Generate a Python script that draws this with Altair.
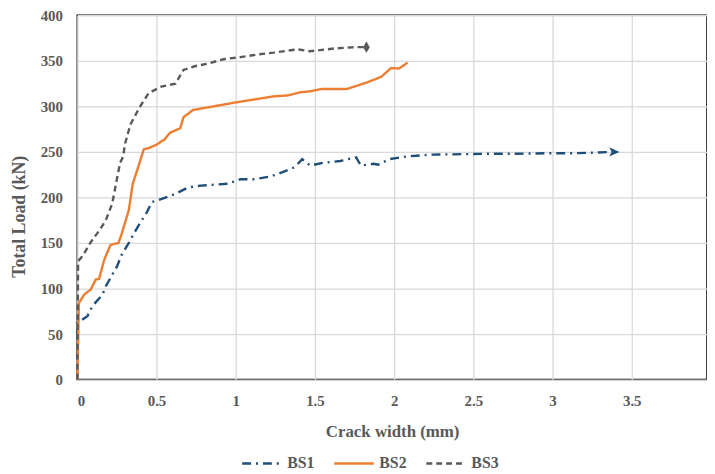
import altair as alt
import pandas as pd

# BS1 series
bs1_x = [0, 0.0, 0.065, 0.096, 0.158, 0.18, 0.22, 0.25, 0.28, 0.325, 0.356, 0.40, 0.44, 0.47,
         0.51, 0.62, 0.70, 0.78, 0.95, 1.03, 1.12, 1.22, 1.30, 1.37, 1.42, 1.47, 1.55, 1.66,
         1.76, 1.79, 1.87, 1.90, 1.97, 2.08, 2.24, 2.43, 2.60, 2.78, 2.97, 3.14, 3.39]
bs1_y = [0, 62, 70, 81, 93, 102.5, 115, 124, 137, 150, 160, 173, 184, 195,
         197, 204, 211, 213, 215, 220, 220, 223, 228, 233, 242, 235, 238, 240,
         244, 235, 237, 236, 242, 245, 247, 247.5, 248, 248, 248.5, 248.5, 250]

# BS2 series
bs2_x = [0, 0.01, 0.044, 0.085, 0.117, 0.137, 0.17, 0.21, 0.26, 0.28, 0.325, 0.35, 0.39, 0.42,
         0.45, 0.50, 0.55, 0.585, 0.65, 0.67, 0.73, 0.99, 1.24, 1.33, 1.41, 1.47, 1.54, 1.70,
         1.825, 1.92, 1.98, 2.03, 2.085]
bs2_y = [0, 84, 93.5, 99, 110, 110.5, 131.5, 148, 150, 160, 186, 215, 236.5, 253,
         254, 258, 263.5, 271, 276, 288, 296, 304, 311, 312, 315.5, 316.5, 319, 319,
         326, 332.5, 342, 341.5, 348]

# BS3 series
bs3_x = [0, 0.005, 0.03, 0.05, 0.085, 0.14, 0.18, 0.22, 0.27, 0.29, 0.30, 0.335, 0.39, 0.45, 0.53,
         0.62, 0.67, 0.74, 0.825, 0.93, 1.03, 1.14, 1.24, 1.39, 1.47, 1.62, 1.76, 1.825]
bs3_y = [0, 130, 135, 140.5, 151, 164, 175, 193, 238, 245, 258, 280, 298, 314.5, 321.7,
         325, 340, 344, 347, 352, 354, 357, 359, 362.6, 360.5, 363.5, 365, 365]

series = ["BS1", "BS2", "BS3"]
colors = ["#1F4E79", "#ED7D31", "#595959"]
dashes = [[9, 5, 2, 5], [1, 0], [6, 4]]

rows = []
for name, xs, ys in [("BS1", bs1_x, bs1_y), ("BS2", bs2_x, bs2_y), ("BS3", bs3_x, bs3_y)]:
    for i, (xv, yv) in enumerate(zip(xs, ys)):
        rows.append({"series": name, "x": xv, "y": yv, "order": i})
df = pd.DataFrame(rows)

ends = pd.DataFrame([
    {"series": "BS1", "x": bs1_x[-1], "y": bs1_y[-1]},
    {"series": "BS3", "x": bs3_x[-1], "y": bs3_y[-1]},
])

font = "Liberation Serif"
grey = "#595959"

xenc = alt.X("x:Q", scale=alt.Scale(domain=[0, 3.975], nice=False),
             axis=alt.Axis(title="Crack width (mm)", values=[0, 0.5, 1, 1.5, 2, 2.5, 3, 3.5],
                           format="~g", tickSize=0, labelPadding=14,
                           titleY=52, titleBaseline="middle", titleFontSize=17,
                           domain=False, grid=True, gridColor="#D9D9D9", gridWidth=1.3))
yenc = alt.Y("y:Q", scale=alt.Scale(domain=[0, 400], nice=False),
             axis=alt.Axis(title="Total Load (kN)", values=list(range(0, 401, 50)),
                           tickSize=0, labelPadding=15,
                           titleX=-58, titleY=203, titleBaseline="middle", titleFontSize=18,
                           domain=False, grid=True, gridColor="#D9D9D9", gridWidth=1.3))

legend_cfg = dict(title=None, orient="none", direction="horizontal",
                  legendX=165, legendY=431, symbolType="stroke",
                  symbolSize=1600, symbolStrokeWidth=2.5,
                  labelFont=font, labelFontWeight="bold",
                  labelFontSize=16, labelColor=grey, columnPadding=14,
                  labelOffset=4)

color = alt.Color("series:N", scale=alt.Scale(domain=series, range=colors),
                  legend=alt.Legend(**legend_cfg))
dash = alt.StrokeDash("series:N", scale=alt.Scale(domain=series, range=dashes),
                      legend=alt.Legend(**legend_cfg))

lines = alt.Chart(df).mark_line(strokeWidth=2.4).encode(
    x=xenc, y=yenc, color=color, strokeDash=dash, order="order:Q", detail="series:N"
)

arrow = alt.Chart(ends[ends.series == "BS1"]).mark_point(
    shape="M-1,-0.9 L1,0 L-1,0.9 L-0.5,0 Z", filled=True, size=110, opacity=1,
    color="#1F4E79"
).encode(x="x:Q", y="y:Q")

diamond = alt.Chart(ends[ends.series == "BS3"]).mark_point(
    shape="M0,-1 L0.6,0 L0,1 L-0.6,0 Z", filled=True, size=130, opacity=1,
    color="#595959"
).encode(x="x:Q", y="y:Q")

chart = alt.layer(lines, arrow, diamond).properties(
    width=636, height=368,
    autosize=alt.AutoSizeParams(type="none"),
    padding={"left": 70, "top": 5, "right": 0, "bottom": 93},
).configure_view(
    stroke="#000000", strokeWidth=1.5
).configure_axis(
    labelFont=font, labelFontWeight="bold", labelFontSize=15, labelColor=grey,
    titleFont=font, titleFontWeight="bold", titleColor=grey
)

chart.save("out.html", embed_options={"renderer": "svg", "actions": False})
